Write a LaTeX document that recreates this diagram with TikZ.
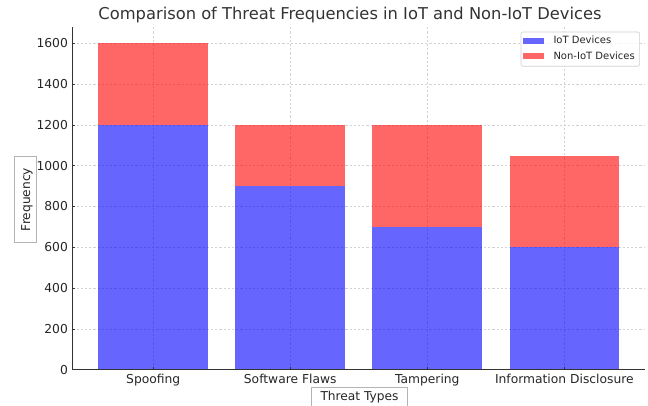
\documentclass[tikz,border=0pt]{standalone}
\usepackage{fontspec}
\setmainfont{DejaVu Sans}
\definecolor{inkdark}{HTML}{262626}
\definecolor{titleink}{HTML}{333333}
\definecolor{spine}{HTML}{333333}
\definecolor{gridgray}{HTML}{D2D2D2}
\definecolor{boxgray}{HTML}{B4B4B4}
\definecolor{legendedge}{HTML}{D0D0D0}
\definecolor{iotblue}{HTML}{6666FF}
\definecolor{nonred}{HTML}{FF6666}
\tikzset{
  gridline/.style={draw=gridgray, line width=0.5pt, dash pattern=on 2.2pt off 2pt},
  axisline/.style={draw=spine, line width=0.9pt},
  iotbar/.style={fill=blue, fill opacity=0.6},
  nonbar/.style={fill=red, fill opacity=0.6},
  ticklabel/.style={inner sep=0pt, text=inkdark, font=\fontsize{12.3}{14}\selectfont},
  labelbox/.style={draw=boxgray, line width=0.6pt, fill=white, inner sep=0pt,
    text=inkdark, font=\fontsize{12.2}{14}\selectfont},
  legendtext/.style={inner sep=0pt, anchor=base west, text=inkdark,
    font=\fontsize{10}{12}\selectfont},
}
\begin{document}
\begin{tikzpicture}[x=1pt, y=-1pt]
\useasboundingbox (0,0) rectangle (648,406);

% title
\node[anchor=base, inner sep=0pt, text=titleink, font=\fontsize{16.3}{19}\selectfont]
  (title) at (350,20) {Comparison of Threat Frequencies in IoT and Non-IoT Devices};

% data axes: one unit in x is one category, one unit in y is one count
\begin{scope}[xshift=153.2pt, yshift=-369.7pt, x=137.05pt, y=0.204pt]
  % grid
  \foreach \v in {0,200,...,1600}
    \draw[gridline] (-0.59,\v) -- (3.59,\v);
  \foreach \i in {0,...,3}
    \draw[gridline] (\i,0) -- (\i,1680);

  % stacked bars
  \foreach \i/\a/\b/\lbl in {0/1200/400/Spoofing, 1/900/300/Software Flaws,
                              2/700/500/Tampering, 3/600/450/Information Disclosure} {
    \fill[iotbar] (\i-0.4,0) rectangle (\i+0.4,\a);
    \fill[nonbar] (\i-0.4,\a) rectangle (\i+0.4,\a+\b);
    \draw[axisline, line width=0.7pt] (\i,0) -- ++(0,3pt);
    \node[ticklabel, anchor=base] (cat\i) at ([yshift=-13.6pt]\i,0) {\lbl};
  }

  % y ticks and labels
  \foreach \v in {0,200,...,1600} {
    \draw[axisline, line width=0.7pt] (-0.59,\v) -- ++(3pt,0);
    \node[ticklabel, anchor=east] (ytick\v) at ([xshift=-4.3pt]-0.59,\v) {\v};
  }

  % spines
  \draw[axisline] (-0.59,1680) -- (-0.59,0) -- (3.59,0);
\end{scope}

% axis titles
\node[labelbox, rotate=90, minimum width=85.6pt, minimum height=22.4pt,
      text height=9pt, text depth=0pt] (ylab) at (25.5,199.5) {Frequency};
\node[labelbox, anchor=north, minimum width=95.6pt, minimum height=22pt,
      text height=9pt, text depth=5.6pt] (xlab) at (359.5,387.3) {Threat Types};

% legend
\node[draw=legendedge, line width=0.6pt, fill=white, fill opacity=0.8,
      rounded corners=2pt, inner sep=0pt, minimum width=118.6pt, minimum height=34.3pt,
      anchor=north west] (legend) at (520.7,31.7) {};
\fill[iotblue] (522.7,37.7) rectangle (544.3,43.7);
\fill[nonred] (522.7,53) rectangle (544.3,59.3);
\node[legendtext] (legiot) at (553.3,44) {IoT Devices};
\node[legendtext] (legnon) at (553.3,59.7) {Non-IoT Devices};
\end{tikzpicture}
\end{document}
